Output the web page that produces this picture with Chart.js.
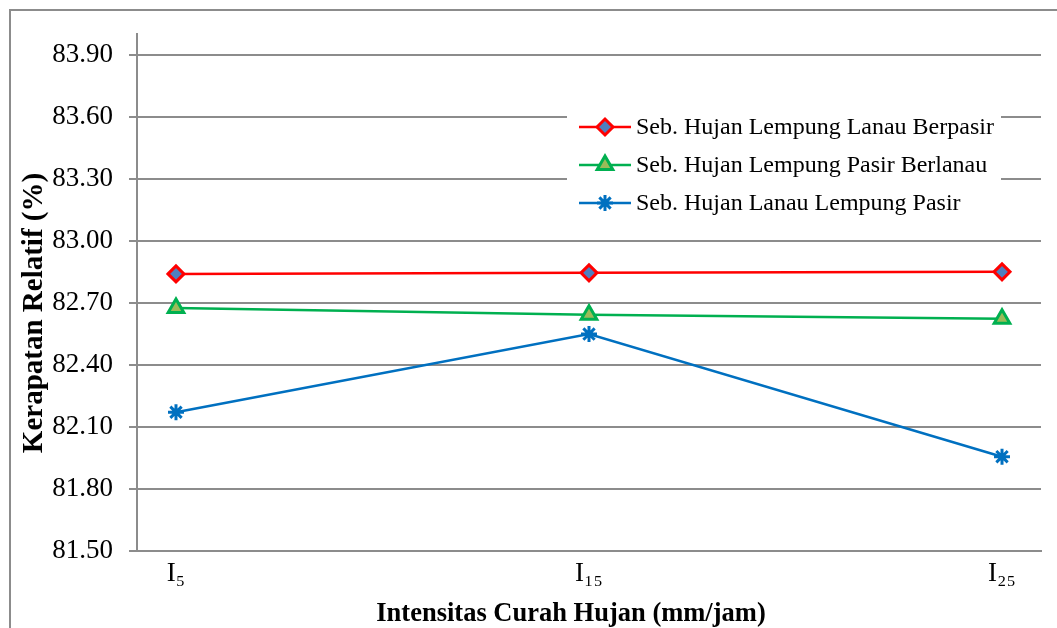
<!DOCTYPE html>
<html>
<head>
<meta charset="utf-8">
<script src="https://cdn.jsdelivr.net/npm/chart.js@4.4.0/dist/chart.umd.min.js"></script>
<style>
  html, body { margin: 0; padding: 0; background: #fff; overflow: hidden; }
  #wrap { position: relative; width: 1057px; height: 628px; }
  #frame { position: absolute; left: 9px; top: 9px; width: 1100px; height: 700px; border: 2px solid #8c8c8c; box-sizing: border-box; }
  canvas { position: absolute; left: 0; top: 0; }
</style>
</head>
<body>
<div id="wrap">
  <div id="frame"></div>
  <canvas id="chart" width="1057" height="628"></canvas>
</div>
<script>
// categories and series
const categories = ['I\u2085', 'I\u2081\u2085', 'I\u2082\u2085'];
const lempungLanauBerpasir = [82.84, 82.845, 82.85];
const lempungPasirBerlanau = [82.675, 82.642, 82.623];
const lanauLempungPasir = [82.171, 82.549, 81.956];
const seriesLabels = [
    'Seb. Hujan Lempung Lanau Berpasir',
    'Seb. Hujan Lempung Pasir Berlanau',
    'Seb. Hujan Lanau Lempung Pasir'
];
const yTicks = [81.50, 81.80, 82.10, 82.40, 82.70, 83.00, 83.30, 83.60, 83.90];
const xTitle = 'Intensitas Curah Hujan (mm/jam)';
const yTitle = 'Kerapatan Relatif (%)';

const serif = "'Liberation Serif', 'Times New Roman', serif";

function toPoints(values) {
    return values.map((v, i) => ({ x: i, y: v }));
}

// axis titles sit a little off-centre in the original, so draw them here
const axisTitles = {
    id: 'axisTitles',
    afterDraw(chart) {
        const ctx = chart.ctx;
        ctx.save();
        ctx.fillStyle = '#000';
        ctx.textAlign = 'center';
        ctx.textBaseline = 'alphabetic';
        ctx.font = 'bold 26.5px ' + serif;
        ctx.fillText(xTitle, 571, 621);
        ctx.translate(42, 313);
        ctx.rotate(-Math.PI / 2);
        ctx.font = 'bold 29px ' + serif;
        ctx.fillText(yTitle, 0, 0);
        ctx.restore();
    }
};

// legend drawn inside the plot, like the Excel original
const insideLegend = {
    id: 'insideLegend',
    afterDatasetsDraw(chart) {
        const ctx = chart.ctx;
        const area = chart.chartArea;
        const boxX = area.left + 430;
        const boxY = area.top + 74;
        ctx.save();
        ctx.fillStyle = '#fff';
        ctx.fillRect(boxX, boxY, 434, 118);
        ctx.font = '24px ' + serif;
        ctx.textBaseline = 'middle';
        chart.data.datasets.forEach((ds, i) => {
            const y = boxY + 19 + i * 38;
            const x0 = boxX + 12;
            ctx.strokeStyle = ds.borderColor;
            ctx.lineWidth = ds.borderWidth;
            ctx.beginPath();
            ctx.moveTo(x0, y);
            ctx.lineTo(x0 + 52, y);
            ctx.stroke();
            ctx.fillStyle = ds.pointBackgroundColor;
            ctx.strokeStyle = ds.pointBorderColor;
            ctx.lineWidth = ds.pointBorderWidth;
            Chart.helpers.drawPoint(ctx, {
                pointStyle: ds.pointStyle,
                radius: ds.pointRadius,
                rotation: 0,
                borderWidth: ds.pointBorderWidth
            }, x0 + 26, y);
            ctx.fillStyle = '#000';
            ctx.fillText(ds.label, x0 + 57, y + 1);
        });
        ctx.restore();
    }
};

const chart = new Chart(document.getElementById('chart').getContext('2d'), {
    type: 'line',
    data: {
        datasets: [
            {
                label: seriesLabels[0],
                data: toPoints(lempungLanauBerpasir),
                borderColor: '#ff0000',
                borderWidth: 2.5,
                pointStyle: 'rectRot',
                pointRadius: 8,
                pointBackgroundColor: '#4f7fbf',
                pointBorderColor: '#ff0000',
                pointBorderWidth: 3
            },
            {
                label: seriesLabels[1],
                data: toPoints(lempungPasirBerlanau),
                borderColor: '#00b050',
                borderWidth: 2.5,
                pointStyle: 'triangle',
                pointRadius: 9,
                pointBackgroundColor: '#9bbb59',
                pointBorderColor: '#00b050',
                pointBorderWidth: 3
            },
            {
                label: seriesLabels[2],
                data: toPoints(lanauLempungPasir),
                borderColor: '#0070c0',
                borderWidth: 2.5,
                pointStyle: 'star',
                pointRadius: 8,
                pointBackgroundColor: '#0070c0',
                pointBorderColor: '#0070c0',
                pointBorderWidth: 3
            }
        ]
    },
    options: {
        responsive: false,
        animation: false,
        layout: { padding: { top: 34, right: 16, left: 0, bottom: 0 } },
        plugins: {
            legend: { display: false },
            tooltip: { enabled: false }
        },
        scales: {
            x: {
                type: 'linear',
                min: -0.0944,
                max: 2.0944,
                afterBuildTicks(scale) {
                    scale.ticks = categories.map((c, i) => ({ value: i }));
                },
                afterFit(scale) { scale.height = 77; },
                ticks: {
                    autoSkip: false,
                    maxRotation: 0,
                    padding: 7,
                    color: '#000',
                    font: { family: serif, size: 27 },
                    callback: (v) => categories[v]
                },
                grid: { display: false, drawTicks: false },
                border: { color: '#8c8c8c', width: 2 }
            },
            y: {
                min: 81.5,
                max: 84.0,
                afterBuildTicks(scale) {
                    scale.ticks = yTicks.map(v => ({ value: v }));
                },
                afterFit(scale) { scale.width = 137; },
                ticks: {
                    padding: 16,
                    color: '#000',
                    font: { family: serif, size: 27 },
                    callback: (v) => v.toFixed(2)
                },
                grid: {
                    color: '#8c8c8c',
                    lineWidth: 2,
                    tickLength: 8
                },
                border: { color: '#8c8c8c', width: 2 }
            }
        }
    },
    plugins: [insideLegend, axisTitles]
});
</script>
</body>
</html>
